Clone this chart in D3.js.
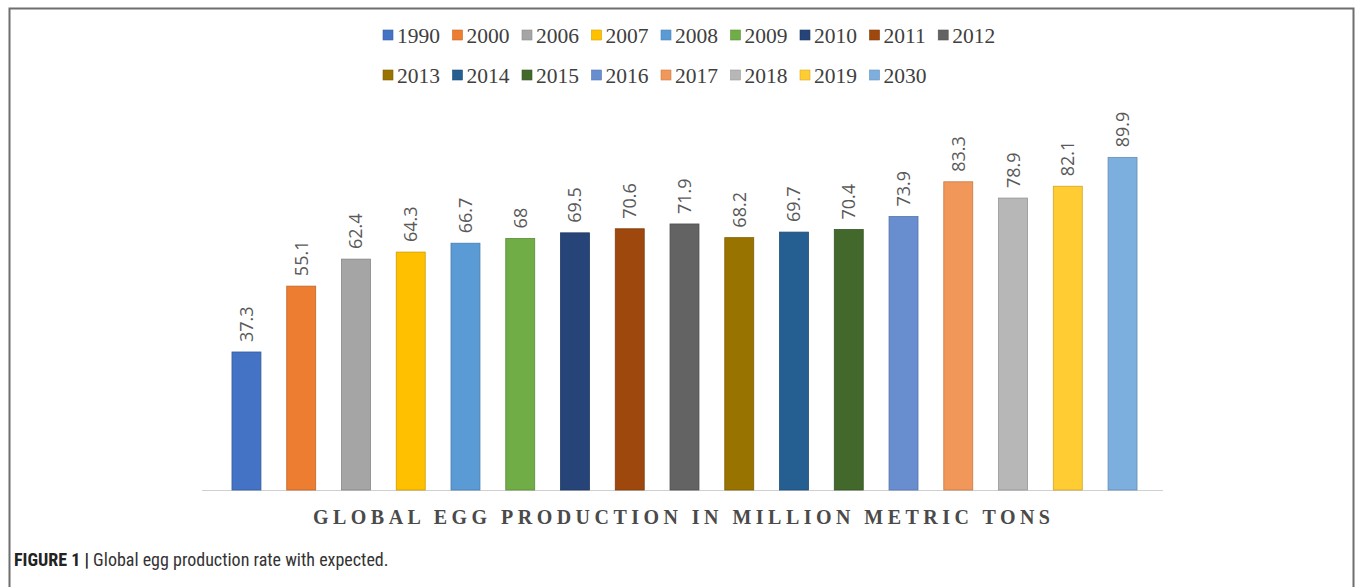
<!DOCTYPE html>
<html>
<head>
<meta charset="utf-8">
<script src="https://cdn.jsdelivr.net/npm/d3@7"></script>
<style>
  html, body { margin: 0; padding: 0; background: #ffffff; }
  svg { display: block; }
  .serif { font-family: "Liberation Serif", "Times New Roman", "Noto Serif", "DejaVu Serif", serif; }
</style>
</head>
<body>
<svg id="chart" width="1355" height="587"></svg>
<script>
const years = ["1990","2000","2006","2007","2008","2009","2010","2011","2012","2013","2014","2015","2016","2017","2018","2019","2030"];
const production = [37.3, 55.1, 62.4, 64.3, 66.7, 68, 69.5, 70.6, 71.9, 68.2, 69.7, 70.4, 73.9, 83.3, 78.9, 82.1, 89.9];
const colors = ["#4472C4","#ED7D31","#A5A5A5","#FFC000","#5B9BD5","#70AD47","#264478","#9E480E","#636363","#997300","#255E91","#43682B","#698ED0","#F1975A","#B7B7B7","#FFCD33","#7CAFDD"];
const legendRows = [years.slice(0, 9), years.slice(9)];
const axisTitle = "GLOBAL EGG PRODUCTION IN MILLION METRIC TONS";
const captionBold = "FIGURE 1 |";
const captionText = " Global egg production rate with expected.";

const svg = d3.select("#chart");

// frame
svg.append("path")
  .attr("d", "M9.5,587 L9.5,8.5 L1353.5,8.5 L1353.5,587")
  .attr("fill", "none").attr("stroke", "#6e6e6e").attr("stroke-width", 2);

const x = d3.scaleBand().domain(years).range([204.6, 1164.4]).paddingInner(0.471).paddingOuter(0.5);
const y = d3.scaleLinear().domain([0, 100]).range([490, 120]);
const color = d3.scaleOrdinal().domain(years).range(colors);

// axis baseline
const axis = d3.axisBottom(x).tickSize(0).tickFormat("");
const ax = svg.append("g").attr("transform", `translate(0,${y(0)})`).call(axis);
ax.select(".domain").attr("stroke", "#d0d0d0").attr("stroke-width", 1.2)
  .attr("d", `M202,0.5H1163`);

// bars
svg.append("g").selectAll("rect").data(years).join("rect")
  .attr("x", d => x(d))
  .attr("width", x.bandwidth())
  .attr("y", (d, i) => y(production[i]))
  .attr("height", (d, i) => y(0) - y(production[i]))
  .attr("fill", d => color(d))
  .attr("stroke", d => d3.color(color(d)).darker(0.6))
  .attr("stroke-width", 0.8);

// value labels
svg.append("g").selectAll("text").data(years).join("text")
  .attr("transform", (d, i) => `translate(${x(d) + x.bandwidth() / 2},${y(production[i]) - 10}) rotate(-90)`)
  .attr("dy", "0.36em")
  .attr("text-anchor", "start")
  .style("font-family", "'Open Sans', sans-serif")
  .style("font-size", "18px")
  .attr("fill", "#595959")
  .text((d, i) => production[i]);

// legend
const lg = svg.append("g");
const measure = svg.append("text").attr("class", "serif").style("font-size", "21.5px").attr("visibility", "hidden");
function textW(s) { measure.text(s); return measure.node().getComputedTextLength(); }
legendRows.forEach((row, r) => {
  let cx = 383;
  const cy = r === 0 ? 35 : 75;
  row.forEach(yr => {
    lg.append("rect").attr("x", cx).attr("y", cy - 5).attr("width", 10).attr("height", 10)
      .attr("fill", color(yr)).attr("stroke", d3.color(color(yr)).darker(0.5)).attr("stroke-width", 0.6);
    lg.append("text").attr("class", "serif").attr("x", cx + 14).attr("y", cy).attr("dy", "0.35em")
      .style("font-size", "21.5px").attr("fill", "#404040").text(yr);
    cx += 14 + textW(yr) + 12.5;
  });
});
measure.remove();

// axis title
svg.append("text").attr("class", "serif")
  .attr("x", 313).attr("y", 524)
  .attr("textLength", 737).attr("lengthAdjust", "spacing")
  .style("font-size", "20px").style("font-weight", "bold")
  .attr("fill", "#4a4a4a")
  .text(axisTitle);

// caption
const cap = svg.append("text").attr("x", 14).attr("y", 566)
  .style("font-family", "'Liberation Sans Narrow', 'Roboto Condensed', 'Liberation Sans', Arial, sans-serif")
  .style("font-size", "18px").attr("fill", "#222");
cap.append("tspan").style("font-weight", "bold").text(captionBold);
cap.append("tspan").attr("fill", "#333").text(captionText);
</script>
</body>
</html>
